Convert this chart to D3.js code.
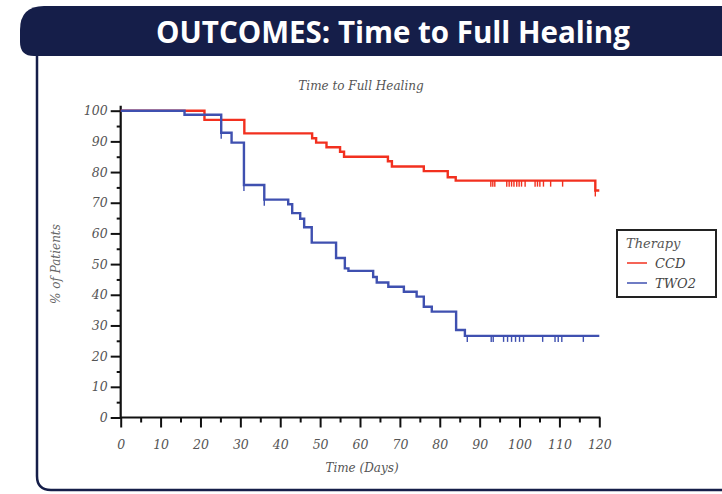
<!DOCTYPE html>
<html>
<head>
<meta charset="utf-8">
<script src="https://cdn.jsdelivr.net/npm/d3@7"></script>
<style>
  html, body { margin: 0; padding: 0; background: #fff; }
  svg { display: block; }
  .tick text { font-family: "DejaVu Serif", serif; font-style: italic; fill: #555; }
</style>
</head>
<body>
<div id="chart"></div>
<script>
// step data (time in days, % of patients)
const ccdTimes = [0, 21, 31, 48, 49, 51.6, 55, 56, 67, 68, 76, 82, 84, 119];
const ccdValues = [100, 97, 92.6, 91, 89.6, 88.1, 86.6, 85, 83.5, 81.8, 80.3, 78.3, 77.2, 74];
const ccdCensored = [92.8, 93.3, 93.8, 96.8, 97.4, 98, 98.6, 99.3, 99.9, 100.5, 101.4,
                     103.9, 104.5, 105.1, 106, 107.8, 110.8, 119];

const two2Times = [0, 16, 25.2, 27.8, 30.9, 36, 42, 43, 45, 46, 47.9, 54, 56.2, 57.1,
                   63.3, 64.2, 67.1, 71, 74.2, 76, 78, 84.1, 86.3];
const two2Values = [100, 98.7, 92.8, 89.6, 75.8, 71, 69.5, 66.6, 64.8, 62, 57, 52, 48.6, 47.8,
                    45.8, 44, 42.6, 41, 39.4, 36.1, 34.5, 28.5, 26.6];
const two2Censored = [25.2, 30.9, 36, 86.9, 92.9, 93.4, 96, 97, 98, 99, 100, 101,
                      105.8, 108.9, 109.7, 110.6, 116];

const lastDay = 120;
const xTicks = d3.range(0, 121, 10);
const yTicks = d3.range(0, 101, 10);

const width = 722, height = 494;
const navy = "#151e49";
const red = "#f2301f";
const blue = "#3f50b0";

const svg = d3.select("#chart").append("svg")
    .attr("width", width)
    .attr("height", height);

// frame round the slide
svg.append("path")
    .attr("d", "M37,50 L37,476 Q37,490 51,490 L724,490")
    .attr("fill", "none")
    .attr("stroke", navy)
    .attr("stroke-width", 2.5);

// header banner
svg.append("path")
    .attr("d", "M44,6 L724,6 L724,56 L34,56 Q20,56 20,42 L20,30 Q20,6 44,6 Z")
    .attr("fill", navy);

svg.append("text")
    .attr("x", 393)
    .attr("y", 43)
    .attr("text-anchor", "middle")
    .attr("fill", "#fff")
    .style("font-family", "'Open Sans', sans-serif")
    .style("font-weight", 700)
    .style("font-size", "29.5px")
    .text("OUTCOMES: Time to Full Healing");

const x = d3.scaleLinear().domain([0, 120]).range([120.7, 599.3]);
const y = d3.scaleLinear().domain([0, 100]).range([417.5, 110.7]);

// chart title
svg.append("text")
    .attr("x", 361)
    .attr("y", 90)
    .attr("text-anchor", "middle")
    .attr("fill", "#555")
    .style("font-family", "'DejaVu Serif', serif")
    .style("font-style", "italic")
    .style("font-size", "12px")
    .text("Time to Full Healing");

// axes
const xMinor = svg.append("g")
    .attr("transform", `translate(0,${y(0)})`)
    .call(d3.axisBottom(x).tickValues(d3.range(5, 120, 10)).tickSize(5).tickSizeOuter(0).tickFormat(""));
const xAxis = svg.append("g")
    .attr("transform", `translate(0,${y(0)})`)
    .call(d3.axisBottom(x).tickValues(xTicks).tickSize(10).tickSizeOuter(0).tickPadding(10));

const yMinor = svg.append("g")
    .attr("transform", `translate(${x(0)},0)`)
    .call(d3.axisLeft(y).tickValues(d3.range(5, 100, 10)).tickSize(4).tickSizeOuter(0).tickFormat(""));
const yAxis = svg.append("g")
    .attr("transform", `translate(${x(0)},0)`)
    .call(d3.axisLeft(y).tickValues(yTicks).tickSize(10).tickSizeOuter(0).tickPadding(3));

[xMinor, xAxis, yMinor, yAxis].forEach(g => {
    g.select(".domain").remove();
    g.selectAll(".tick line").attr("stroke", "#111").attr("stroke-width", 2);
});
xAxis.selectAll(".tick text").style("font-size", "12.5px").attr("dy", "0.9em");
yAxis.selectAll(".tick text").style("font-size", "12.5px");

svg.append("line")
    .attr("x1", x(0)).attr("x2", x(120) + 1)
    .attr("y1", y(0)).attr("y2", y(0))
    .attr("stroke", "#111").attr("stroke-width", 2.2);
svg.append("line")
    .attr("x1", x(0)).attr("x2", x(0))
    .attr("y1", y(0) + 1).attr("y2", y(100) - 5)
    .attr("stroke", "#111").attr("stroke-width", 2.2);

// axis titles
svg.append("text")
    .attr("transform", `translate(60,${(y(0) + y(100)) / 2}) rotate(-90)`)
    .attr("text-anchor", "middle")
    .attr("fill", "#666")
    .style("font-family", "'DejaVu Serif', serif")
    .style("font-style", "italic")
    .style("font-size", "12px")
    .text("% of Patients");

svg.append("text")
    .attr("x", 362)
    .attr("y", 472)
    .attr("text-anchor", "middle")
    .attr("fill", "#555")
    .style("font-family", "'DejaVu Serif', serif")
    .style("font-style", "italic")
    .style("font-size", "12px")
    .text("Time (Days)");

// curves
function stepPoints(times, values) {
    const pts = times.map((t, i) => [t, values[i]]);
    pts.push([lastDay, values[values.length - 1]]);
    return pts;
}
function valueAt(times, values, t) {
    let v = values[0];
    times.forEach((tt, i) => { if (tt <= t) v = values[i]; });
    return v;
}

const line = d3.line()
    .x(d => x(d[0]))
    .y(d => y(d[1]))
    .curve(d3.curveStepAfter);

const series = [
    { name: "CCD", color: red, times: ccdTimes, values: ccdValues, censored: ccdCensored },
    { name: "TWO2", color: blue, times: two2Times, values: two2Values, censored: two2Censored }
];

series.forEach(s => {
    svg.append("path")
        .datum(stepPoints(s.times, s.values))
        .attr("d", line)
        .attr("fill", "none")
        .attr("stroke", s.color)
        .attr("stroke-width", 2.4);

    svg.selectAll(null)
        .data(s.censored)
        .enter()
        .append("line")
        .attr("x1", d => x(d))
        .attr("x2", d => x(d))
        .attr("y1", d => y(valueAt(s.times, s.values, d)))
        .attr("y2", d => y(valueAt(s.times, s.values, d)) + 6)
        .attr("stroke", s.color)
        .attr("stroke-width", 1.4);
});

// legend
const legend = svg.append("g");
legend.append("rect")
    .attr("x", 617).attr("y", 230)
    .attr("width", 99).attr("height", 67)
    .attr("fill", "#fff")
    .attr("stroke", "#222")
    .attr("stroke-width", 2);
legend.append("text")
    .attr("x", 626).attr("y", 248)
    .attr("fill", "#555")
    .style("font-family", "'DejaVu Serif', serif")
    .style("font-style", "italic")
    .style("font-size", "13px")
    .text("Therapy");
series.forEach((s, i) => {
    const ly = 263 + i * 20;
    legend.append("line")
        .attr("x1", 627).attr("x2", 647)
        .attr("y1", ly).attr("y2", ly)
        .attr("stroke", s.color)
        .attr("stroke-width", 1.5);
    legend.append("text")
        .attr("x", 655).attr("y", ly + 4.5)
        .attr("fill", "#444")
        .style("font-family", "'DejaVu Serif', serif")
        .style("font-style", "italic")
        .style("font-size", "13px")
        .text(s.name);
});
</script>
</body>
</html>
